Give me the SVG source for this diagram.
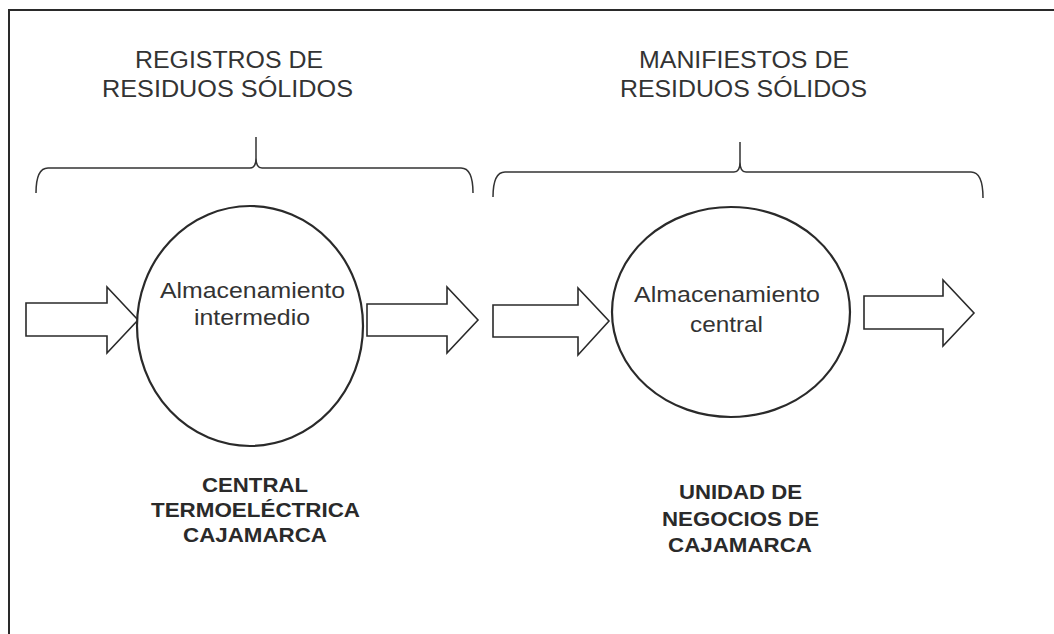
<svg xmlns="http://www.w3.org/2000/svg" width="1054" height="634" viewBox="0 0 1054 634">
<style>
.bg{fill:#ffffff}
.frame{fill:none;stroke:#2a2a2a;stroke-width:2}
.brace{fill:none;stroke:#333;stroke-width:1.5}
.node{fill:#ffffff;stroke:#2a2a2a;stroke-width:2.2}
.arrow{fill:#ffffff;stroke:#2a2a2a;stroke-width:1.6;stroke-linejoin:miter}
.hdr{font-family:"Liberation Sans",Arial,sans-serif;font-size:23px;fill:#333}
.lbl{font-family:"Liberation Sans",Arial,sans-serif;font-size:22.5px;fill:#333}
.org{font-family:"Liberation Sans",Arial,sans-serif;font-size:20.5px;font-weight:bold;fill:#2a2a2a}
</style>
<rect class="bg" x="0" y="0" width="1054" height="634"/>
<path class="frame" d="M9,634 L9,10 L1054,10"/>

<g id="header-registros">
<text class="hdr" x="135" y="68" textLength="188" lengthAdjust="spacingAndGlyphs">REGISTROS DE</text>
<text class="hdr" x="102" y="97" textLength="251" lengthAdjust="spacingAndGlyphs">RESIDUOS SÓLIDOS</text>
<path class="brace" d="M36,193 Q36,168 48,168 L250,168 Q256,168 256,158 L256,137 M256,158 Q256,168 262,168 L461,168 Q473,168 473,193"/>
</g>

<g id="header-manifiestos">
<text class="hdr" x="639" y="68" textLength="210" lengthAdjust="spacingAndGlyphs">MANIFIESTOS DE</text>
<text class="hdr" x="620" y="97" textLength="247" lengthAdjust="spacingAndGlyphs">RESIDUOS SÓLIDOS</text>
<path class="brace" d="M493,197 Q493,172 505,172 L734,172 Q740,172 740,162 L740,142 M740,162 Q740,172 746,172 L971,172 Q983,172 983,198"/>
</g>

<g id="connectors">
<polygon class="arrow" points="26,303 107,303 107,287 138,320 107,353 107,336 26,336"/>
<polygon class="arrow" points="367,304 447,304 447,287 478,320 447,353 447,336 367,336"/>
<polygon class="arrow" points="493,305 578,305 578,288 609,321 578,355 578,337 493,337"/>
<polygon class="arrow" points="864,296 943,296 943,280 974,313 943,346 943,329 864,329"/>
</g>

<g id="node-intermedio">
<ellipse class="node" cx="250" cy="326" rx="113" ry="120"/>
<text class="lbl" x="160" y="298" textLength="185" lengthAdjust="spacingAndGlyphs">Almacenamiento</text>
<text class="lbl" x="194" y="325" textLength="116" lengthAdjust="spacingAndGlyphs">intermedio</text>
</g>

<g id="node-central">
<ellipse class="node" cx="731" cy="312" rx="119" ry="105"/>
<text class="lbl" x="634" y="302" textLength="186" lengthAdjust="spacingAndGlyphs">Almacenamiento</text>
<text class="lbl" x="690" y="332" textLength="73" lengthAdjust="spacingAndGlyphs">central</text>
</g>

<g id="label-cajamarca-central">
<text class="org" x="202" y="492" textLength="106" lengthAdjust="spacingAndGlyphs">CENTRAL</text>
<text class="org" x="151" y="517" textLength="209" lengthAdjust="spacingAndGlyphs">TERMOELÉCTRICA</text>
<text class="org" x="183" y="542" textLength="144" lengthAdjust="spacingAndGlyphs">CAJAMARCA</text>
</g>

<g id="label-unidad">
<text class="org" x="679" y="499" textLength="123" lengthAdjust="spacingAndGlyphs">UNIDAD DE</text>
<text class="org" x="662" y="526" textLength="157" lengthAdjust="spacingAndGlyphs">NEGOCIOS DE</text>
<text class="org" x="668" y="552" textLength="144" lengthAdjust="spacingAndGlyphs">CAJAMARCA</text>
</g>
</svg>
